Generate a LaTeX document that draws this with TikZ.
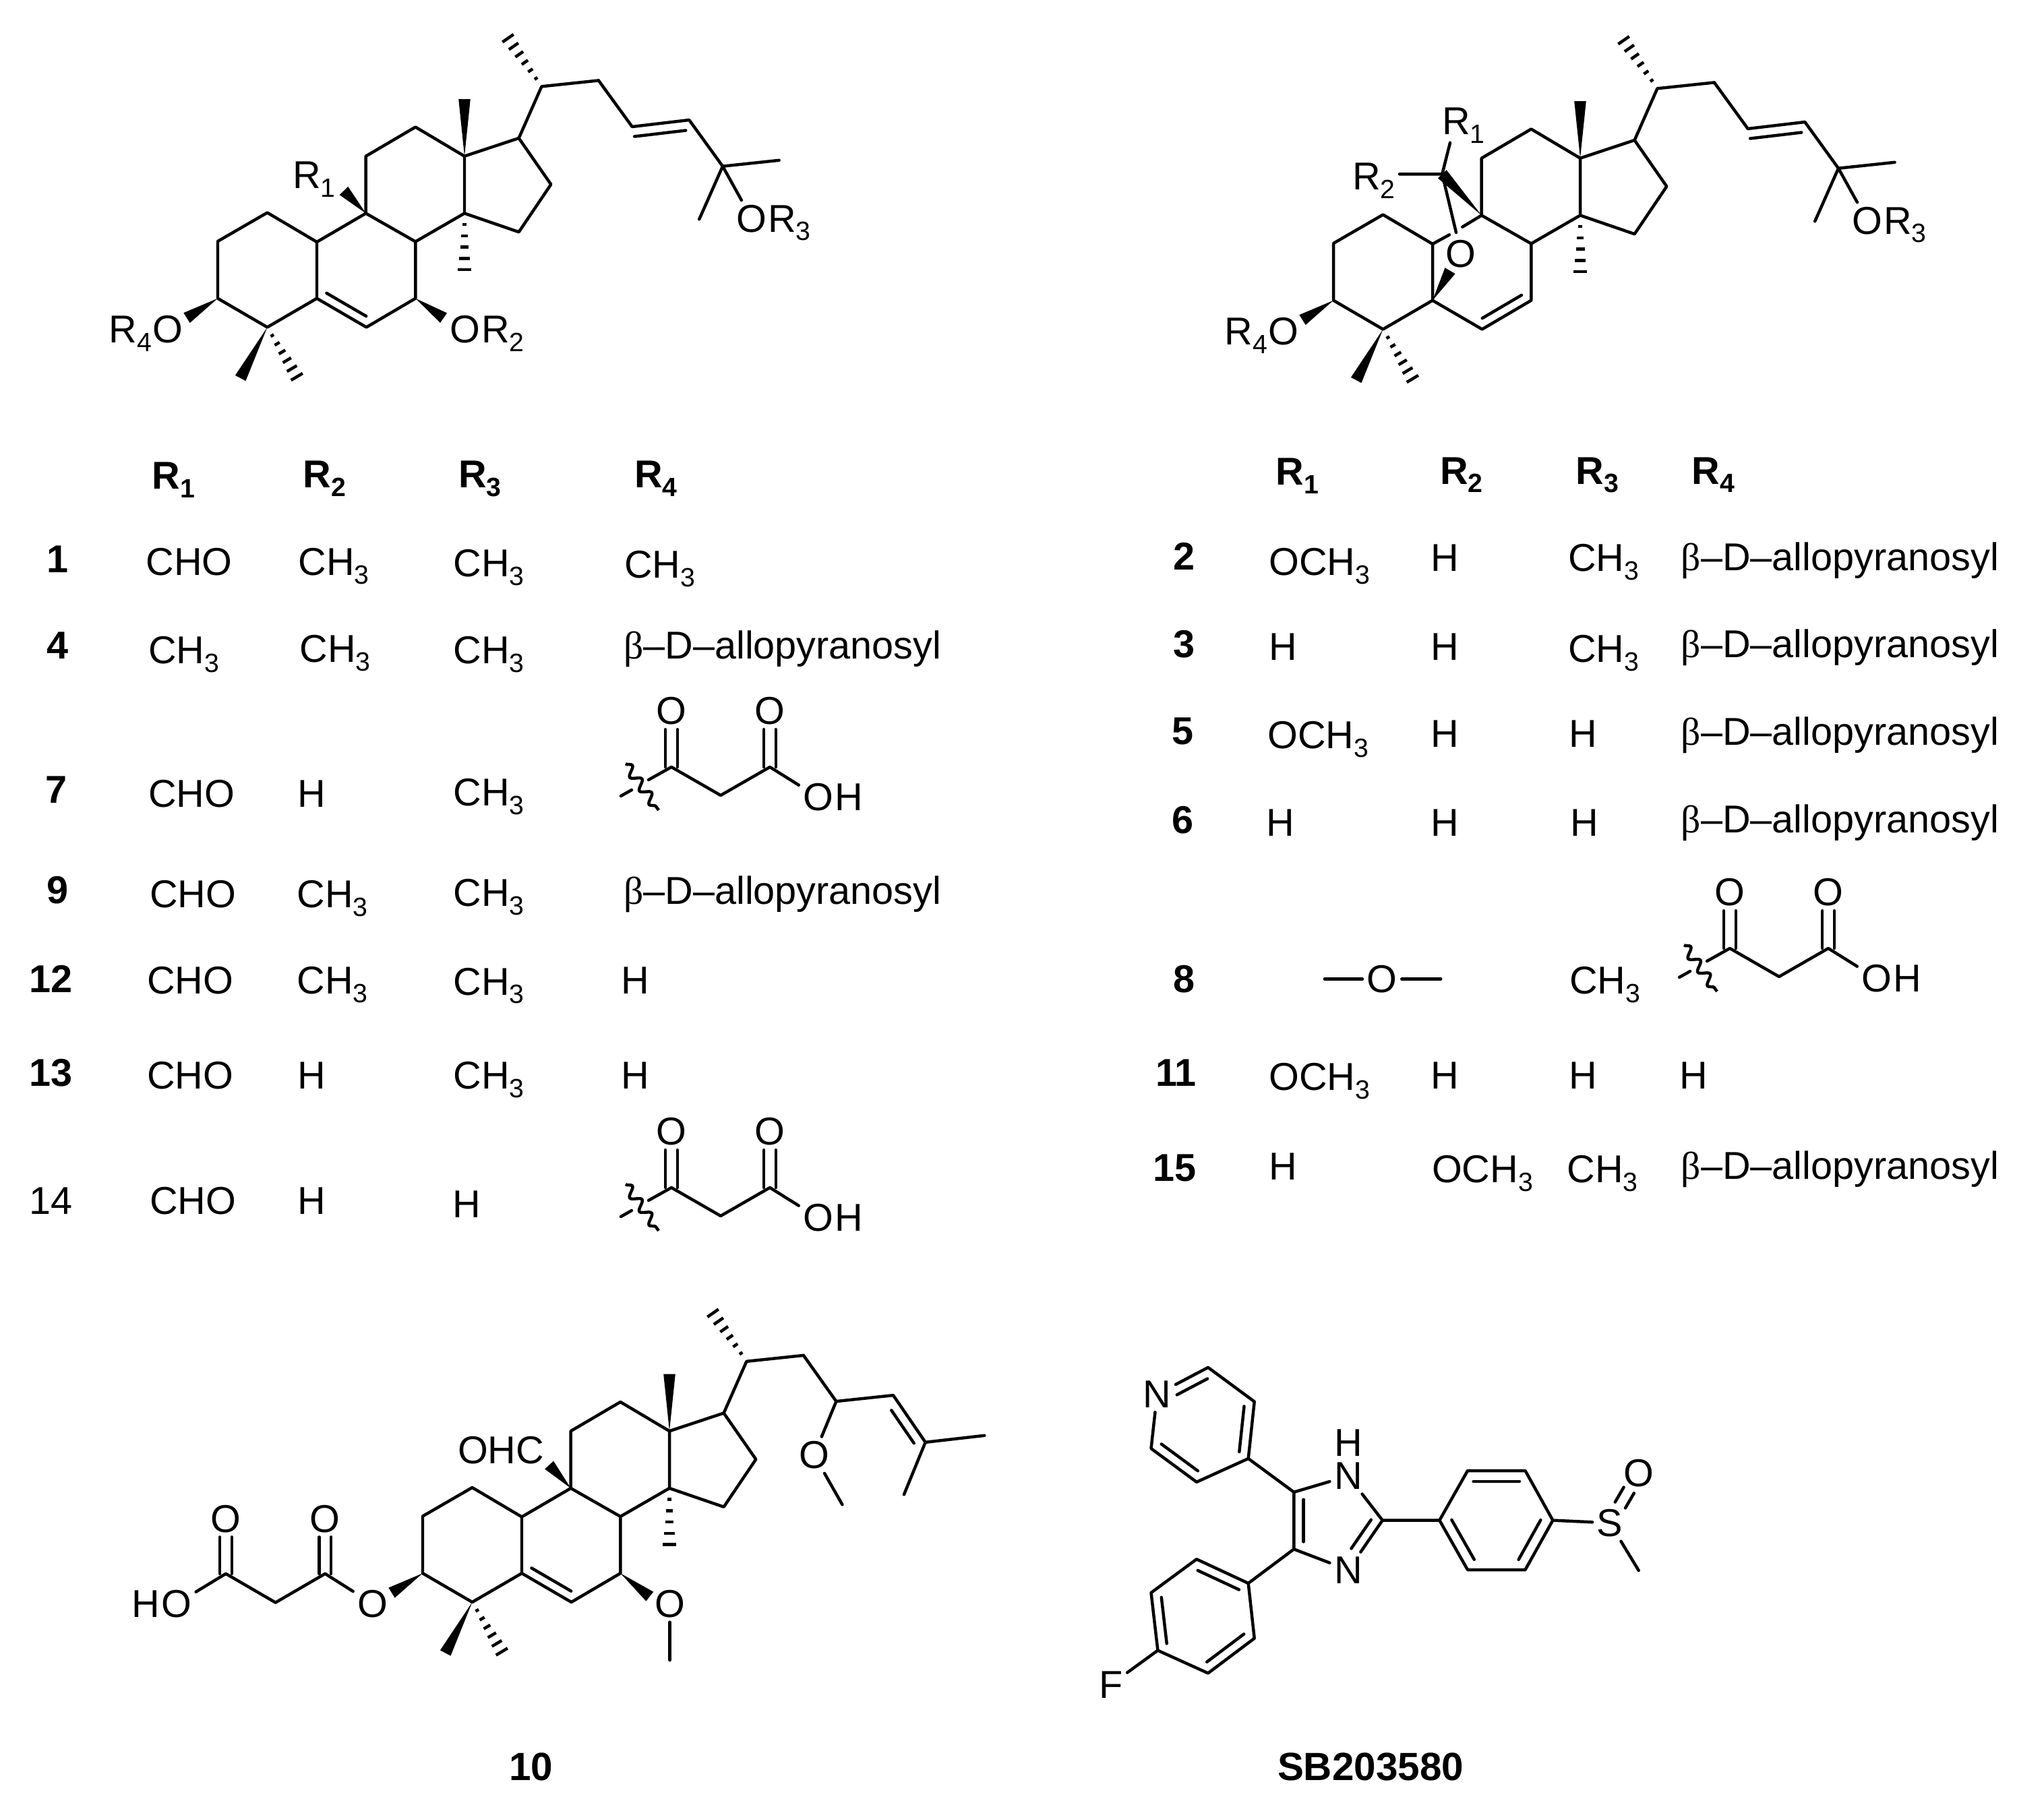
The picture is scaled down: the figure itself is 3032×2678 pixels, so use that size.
\documentclass[tikz,border=0pt]{standalone}
\usepackage{fontspec}
\setmainfont{Liberation Sans}
\newfontfamily\greekfont{Liberation Serif}
\usetikzlibrary{calc,positioning,decorations.pathmorphing}

\newcommand{\sbs}[1]{\smash{\raisebox{-3.2pt}{\fontsize{9.8}{10}\selectfont #1}}}
\newcommand{\mec}{CH\sbs{3}}
\newcommand{\ome}{OCH\sbs{3}}
\newcommand{\allo}{{\greekfont β}–D–allopyranosyl}

\tikzset{
    bond/.style={line width=1.12pt, line cap=round, line join=round},
    hash/.style={line width=1.12pt},
    atom/.style={inner sep=1.5pt, font=\fontsize{14.4}{16}\selectfont},
    lbl/.style={inner sep=0pt, font=\fontsize{14.4}{16}\selectfont},
    num/.style={inner sep=0pt, font=\fontsize{14.6}{16}\selectfont\bfseries},
    wave/.style={line width=1.12pt, decorate, decoration={snake, amplitude=1.7pt, segment length=6.2pt}}
}

\newcommand{\wedgebond}[2]{\fill (#1) -- ($(#2)!2.2pt!90:(#1)$) -- ($(#2)!2.2pt!-90:(#1)$) -- cycle;}
\newcommand{\hashbond}[3]{
    \foreach \k in {1,...,#3}{
        \pgfmathsetmacro\hf{\k/#3}
        \pgfmathsetmacro\hw{0.3+2.2*\hf}
        \draw[hash] ($(#1)!\hf!(#2)!\hw pt!90:(#1)$) -- ($(#1)!\hf!(#2)!\hw pt!-90:(#1)$);
    }
}
\newcommand{\innerbond}[5]{\draw[bond] ($(#1)!#3!(#2)!#5!90:(#2)$) -- ($(#1)!#4!(#2)!#5!90:(#2)$);}

\newcommand{\lanostane}[3]{
    \begin{scope}[shift={(#2,#3)}]
        \coordinate (#1c1) at (323,358);
        \coordinate (#1c2) at (396.5,315.5);
        \coordinate (#1c3) at (470,359);
        \coordinate (#1c4) at (470,442.7);
        \coordinate (#1c5) at (396.5,485.5);
        \coordinate (#1c6) at (323,442.7);
        \coordinate (#1c7) at (543.5,485.5);
        \coordinate (#1c8) at (616.3,442.7);
        \coordinate (#1c9) at (616.3,358.5);
        \coordinate (#1c10) at (542.7,316.5);
        \coordinate (#1c11) at (542.7,231.7);
        \coordinate (#1c12) at (616.3,188.5);
        \coordinate (#1c13) at (689,231.7);
        \coordinate (#1c14) at (689,316.5);
        \coordinate (#1c15) at (769.6,344.2);
        \coordinate (#1c16) at (817.3,273.6);
        \coordinate (#1c17) at (769.6,205);
        \coordinate (#1c18) at (689,147);
        \coordinate (#1c19) at (803.4,128.3);
        \coordinate (#1c20) at (753.6,56.7);
        \coordinate (#1c21) at (887.9,119.4);
        \coordinate (#1m14) at (689,400);
        \coordinate (#1m4a) at (356.7,561);
        \coordinate (#1m4b) at (440.3,559);
        \coordinate (#1w3) at (277,471.6);
    \end{scope}

    \draw[bond] (#1c3) -- (#1c2) -- (#1c1) -- (#1c6) -- (#1c5) -- (#1c4) -- (#1c3);
    \draw[bond] (#1c4) -- (#1c7) -- (#1c8) -- (#1c9) -- (#1c10) -- (#1c11) -- (#1c12) -- (#1c13) -- (#1c14) -- (#1c9);
    \draw[bond] (#1c14) -- (#1c15) -- (#1c16) -- (#1c17) -- (#1c13);
    \draw[bond] (#1c17) -- (#1c19) -- (#1c21);

    \wedgebond{#1c13}{#1c18}
    \wedgebond{#1c5}{#1m4a}
    \wedgebond{#1c6}{#1w3}
    \hashbond{#1c14}{#1m14}{5}
    \hashbond{#1c19}{#1c20}{6}
    \hashbond{#1c5}{#1m4b}{6}
}

\newcommand{\upperpart}[3]{
    \begin{scope}[shift={(#2,#3)}]
        \coordinate (#1c22) at (937.7,188);
        \coordinate (#1c23) at (1022.3,178);
        \coordinate (#1c24) at (1072,246.7);
        \coordinate (#1c25) at (1155.6,237.8);
        \coordinate (#1c26) at (1037.2,325.3);
        \node[atom] (#1o3) at (1115,324.3) {O};
        \node[atom] (#1o4) at (249,488.5) {O};
    \end{scope}
    \node[lbl, base right=-1.5pt of #1o3] (#1r3) {R\sbs{3}};
    \node[lbl, base left=-1.5pt of #1o4] (#1r4) {R\sbs{4}};

    \draw[bond] (#1c21) -- (#1c22) -- (#1c23) -- (#1c24) -- (#1c25);
    \draw[bond] (#1c24) -- (#1c26);
    \draw[bond] (#1c24) -- (#1o3);
    \innerbond{#1c22}{#1c23}{.02}{.92}{-3.7pt}
}

\newcommand{\malonyl}[3]{
    \begin{scope}[shift={(#2,#3)}]
        \coordinate (#1c1) at (996,1138);
        \coordinate (#1c2) at (1069,1180);
        \coordinate (#1c3) at (1142,1138);
        \coordinate (#1w) at (962,1157);
        \coordinate (#1d1) at (937,1172);
        \coordinate (#1d2) at (921,1181);
        \coordinate (#1s1) at (928,1133);
        \coordinate (#1s2) at (977,1202);
        \node[atom] (#1o1) at (996,1055) {O};
        \node[atom] (#1o2) at (1142,1055) {O};
        \node[atom] (#1o3) at (1214,1183) {O};
    \end{scope}
    \node[lbl, base right=-1.5pt of #1o3] (#1h) {H};

    \draw[bond] (#1w) -- (#1c1) -- (#1c2) -- (#1c3) -- (#1o3);
    \draw[bond] (#1d1) -- (#1d2);
    \draw[bond] ([xshift=-2.2pt]#1c1) -- ([xshift=-2.2pt]#1o1.south);
    \draw[bond] ([xshift=2.2pt]#1c1) -- ([xshift=2.2pt]#1o1.south);
    \draw[bond] ([xshift=-2.2pt]#1c3) -- ([xshift=-2.2pt]#1o2.south);
    \draw[bond] ([xshift=2.2pt]#1c3) -- ([xshift=2.2pt]#1o2.south);
    \draw[wave] (#1s1) -- (#1s2);
}

\begin{document}
\begin{tikzpicture}[x=0.25pt, y=-0.25pt]
    \useasboundingbox (0,0) rectangle (3032,2678);

    \lanostane{a}{0}{0}
    \upperpart{a}{0}{0}
    \draw[bond] (ac3) -- (ac10);
    \innerbond{ac4}{ac7}{.1}{.9}{3.5pt}
    \coordinate (aw1) at (510,283);
    \coordinate (aw2) at (658,471.6);
    \wedgebond{ac10}{aw1}
    \wedgebond{ac8}{aw2}
    \node[atom] (ar1) at (466,260) {R\sbs{1}};
    \node[atom] (ao2) at (690,488.5) {O};
    \node[lbl, base right=-1.5pt of ao2] (ar2) {R\sbs{2}};

    \lanostane{b}{1655}{3}
    \upperpart{b}{1655}{3}
    \innerbond{bc7}{bc8}{.1}{.9}{3.5pt}
    \coordinate (bc30) at (2139.3,258.3);
    \coordinate (bg1) at (2151,211.7);
    \coordinate (bg2) at (2076,258.3);
    \coordinate (bg3) at (2160,345);
    \coordinate (bg4) at (2150,348.3);
    \coordinate (bg5) at (2169.3,336.7);
    \coordinate (bw1) at (2151,401.7);
    \node[atom] (bo5) at (2166.7,376.7) {O};
    \node[atom] (br1) at (2171,180) {R\sbs{1}};
    \node[atom] (br2) at (2038,262) {R\sbs{2}};
    \draw[bond] (bc3) -- (bg4);
    \draw[bond] (bg5) -- (bc10);
    \draw[bond] (bg1) -- (bc30) -- (bg2);
    \draw[bond] (bc30) -- (bg3);
    \wedgebond{bc10}{bc30}
    \wedgebond{bc4}{bw1}

    \lanostane{c}{304}{1891.5}
    \draw[bond] (cc3) -- (cc10);
    \innerbond{cc4}{cc7}{.1}{.9}{3.5pt}
    \coordinate (cc22) at (1240.4,2079.1);
    \coordinate (cc23) at (1325,2070.1);
    \coordinate (cc24) at (1372.7,2139.8);
    \coordinate (cc25) at (1460.3,2129.8);
    \coordinate (cc26) at (1340.9,2217.4);
    \coordinate (cc27) at (1249.4,2232.3);
    \coordinate (cc28) at (993.7,2463);
    \coordinate (cw1) at (814.6,2173.6);
    \coordinate (cw2) at (963.8,2368.6);
    \coordinate (ce1) at (482.3,2334.8);
    \coordinate (ce2) at (408.7,2377.6);
    \coordinate (ce3) at (335,2334.8);
    \node[atom] (co1) at (1207.6,2158.7) {O};
    \node[atom] (co2) at (993.7,2379.5) {O};
    \node[atom] (co3) at (552.9,2379.5) {O};
    \node[atom] (co4) at (482.3,2253.2) {O};
    \node[atom] (co5) at (335,2253.2) {O};
    \node[atom] (co6) at (261.4,2379.5) {O};
    \node[lbl, base left=-1.5pt of co6] (chh) {H};
    \node[atom] (cohc) at (743,2151.7) {OHC};
    \node[num] (clab) at (788,2621) {10};
    \draw[bond] (cc21) -- (cc22) -- (cc23) -- (cc24) -- (cc25);
    \draw[bond] (cc24) -- (cc26);
    \draw[bond] (cc22) -- (co1) -- (cc27);
    \innerbond{cc23}{cc24}{.2}{.9}{-3.7pt}
    \draw[bond] (co2) -- (cc28);
    \draw[bond] (co3) -- (ce1) -- (ce2) -- (ce3) -- (co6);
    \draw[bond] ([xshift=-2.2pt]ce1) -- ([xshift=-2.2pt]co4.south);
    \draw[bond] ([xshift=2.2pt]ce1) -- ([xshift=2.2pt]co4.south);
    \draw[bond] ([xshift=-2.2pt]ce3) -- ([xshift=-2.2pt]co5.south);
    \draw[bond] ([xshift=2.2pt]ce3) -- ([xshift=2.2pt]co5.south);
    \wedgebond{cc10}{cw1}
    \wedgebond{cc8}{cw2}

    \coordinate (dp2) at (1792,2028.8);
    \coordinate (dp3) at (1860.7,2079.5);
    \coordinate (dp4) at (1851.7,2164);
    \coordinate (dp5) at (1775,2198.8);
    \coordinate (dp6) at (1707.5,2149.1);
    \coordinate (di5) at (1919.3,2213.8);
    \coordinate (di2) at (2050.7,2255.6);
    \coordinate (di4) at (1919.3,2298.4);
    \coordinate (df1) at (1851.7,2349);
    \coordinate (df2) at (1775,2313.3);
    \coordinate (df3) at (1707.5,2363);
    \coordinate (df4) at (1717.4,2448.6);
    \coordinate (df5) at (1792,2482.4);
    \coordinate (df6) at (1860.7,2430.7);
    \coordinate (dg1) at (2135.3,2255.6);
    \coordinate (dg2) at (2177,2182);
    \coordinate (dg3) at (2262.5,2182);
    \coordinate (dg4) at (2303.4,2255.6);
    \coordinate (dg5) at (2262.5,2329);
    \coordinate (dg6) at (2177,2329);
    \coordinate (dme) at (2430.7,2330);
    \node[atom] (dn1) at (1716.4,2068.6) {N};
    \node[atom] (dn2) at (2000,2189.9) {N};
    \node[atom] (dh) at (2000,2140.2) {H};
    \node[atom] (dn3) at (2000,2329.2) {N};
    \node[atom] (dfl) at (1647.7,2499.3) {F};
    \node[atom] (ds) at (2388,2259.5) {S};
    \node[atom] (do) at (2430.7,2185.9) {O};
    \node[num] (dlab) at (2033,2621) {SB203580};

    \draw[bond] (dn1) -- (dp2) -- (dp3) -- (dp4) -- (dp5) -- (dp6) -- (dn1);
    \innerbond{dn1}{dp2}{.3}{.9}{-3.6pt}
    \innerbond{dp3}{dp4}{.1}{.9}{-3.6pt}
    \innerbond{dp5}{dp6}{.1}{.9}{-3.6pt}
    \draw[bond] (dp4) -- (di5) -- (dn2);
    \draw[bond] (dn2) -- (di2) -- (dn3);
    \draw[bond] (dn3) -- (di4) -- (di5);
    \innerbond{di4}{di5}{.13}{.87}{-3.6pt}
    \innerbond{di2}{dn3}{.1}{.68}{-3.6pt}
    \draw[bond] (di4) -- (df1) -- (df2) -- (df3) -- (df4) -- (df5) -- (df6) -- (df1);
    \innerbond{df1}{df2}{.1}{.9}{3.6pt}
    \innerbond{df3}{df4}{.1}{.9}{3.6pt}
    \innerbond{df5}{df6}{.1}{.9}{3.6pt}
    \draw[bond] (df4) -- (dfl);
    \draw[bond] (di2) -- (dg1) -- (dg2) -- (dg3) -- (dg4) -- (dg5) -- (dg6) -- (dg1);
    \innerbond{dg2}{dg3}{.1}{.9}{-4pt}
    \innerbond{dg4}{dg5}{.1}{.9}{-4pt}
    \innerbond{dg6}{dg1}{.1}{.9}{-4pt}
    \draw[bond] (dg4) -- (ds) -- (dme);
    \innerbond{ds}{do}{.36}{.66}{2.2pt}
    \innerbond{ds}{do}{.36}{.66}{-2.2pt}

    \malonyl{m}{0}{0}
    \malonyl{n}{0}{624}
    \malonyl{p}{1570}{269}

    \begin{scope}[x=0.4835pt, y=-0.4835pt]
        \foreach \lx/\ly/\lab [count=\i] in {
            133/365/{\bfseries R\sbs{1}}, 249/364/{\bfseries R\sbs{2}}, 368/364/{\bfseries R\sbs{3}}, 503/364/{\bfseries R\sbs{4}},
            44/429/{\bfseries 1}, 145/431/CHO, 256/431/\mec, 375/432/\mec, 506/433/\mec,
            44/495/{\bfseries 4}, 141/499/\mec, 257/498/\mec, 375/499/\mec,
            43/606/{\bfseries 7}, 147/609/CHO, 239/609/H, 375/608/\mec,
            44/683/{\bfseries 9}, 148/686/CHO, 255/686/\mec, 375/685/\mec,
            39/751/{\bfseries 12}, 146/752/CHO, 255/752/\mec, 375/753/\mec, 487/752/H,
            39/823/{\bfseries 13}, 146/825/CHO, 239/825/H, 375/825/\mec, 487/825/H,
            39/921/14, 148/921/CHO, 239/921/H, 358/924/H,
            995/362/{\bfseries R\sbs{1}}, 1121/361/{\bfseries R\sbs{2}}, 1225/361/{\bfseries R\sbs{3}}, 1314/361/{\bfseries R\sbs{4}},
            908/427/{\bfseries 2}, 1012/431/\ome, 1108/428/H, 1230/428/\mec,
            908/494/{\bfseries 3}, 984/496/H, 1108/496/H, 1230/498/\mec,
            907/561/{\bfseries 5}, 1011/564/\ome, 1108/563/H, 1214/563/H,
            907/629/{\bfseries 6}, 982/631/H, 1108/631/H, 1215/631/H,
            908/751/{\bfseries 8}, 1231/752/\mec,
            902/823/{\bfseries 11}, 1012/826/\ome, 1108/825/H, 1214/825/H, 1299/825/H,
            901/896/{\bfseries 15}, 984/895/H, 1137/897/\ome, 1229/897/\mec}
            \node[lbl] (tab\i) at (\lx,\ly) {\lab};

        \foreach \lx/\ly [count=\i] in {478/498, 478/686, 1289/430, 1289/497, 1289/564, 1289/631, 1289/897}
            \node[lbl, anchor=west] (allo\i) at (\lx,\ly) {\allo};

        \coordinate (ed1) at (1016,751);
        \coordinate (ed2) at (1105,751);
        \node[atom] (eo) at (1060,751) {O};
        \draw[bond] (ed1) -- (eo) -- (ed2);
    \end{scope}
\end{tikzpicture}
\end{document}
